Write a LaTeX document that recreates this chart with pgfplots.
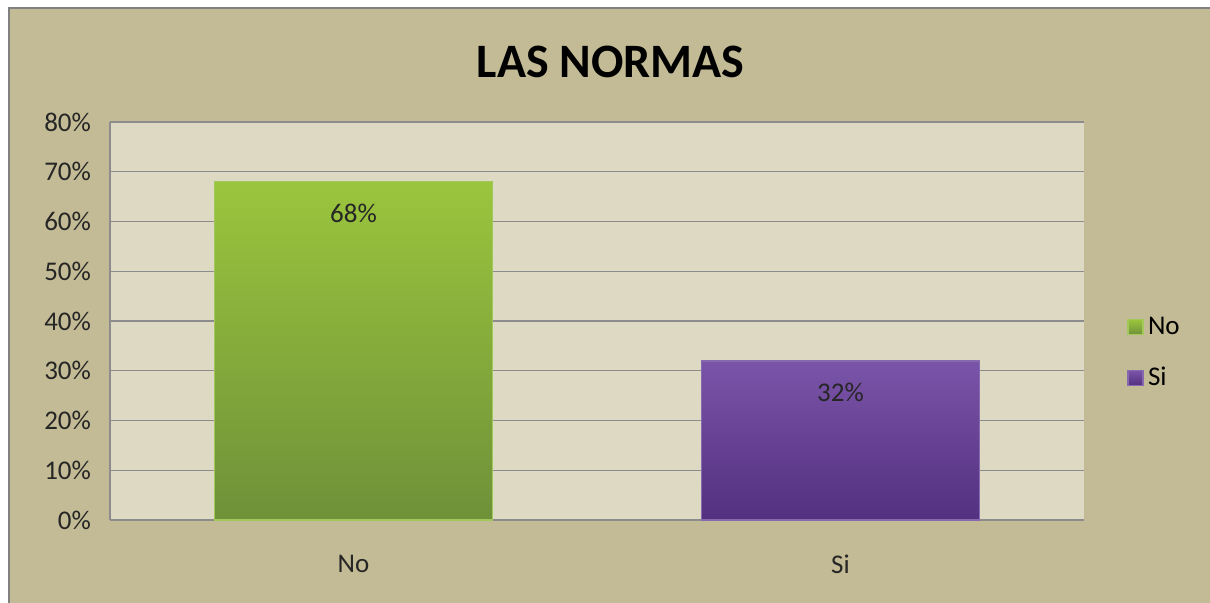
\documentclass[border=0pt]{standalone}
\usepackage{fontspec}
\setmainfont{Carlito}
\usepackage{pgfplots}
\pgfplotsset{compat=1.18}
\usetikzlibrary{backgrounds}

\definecolor{chartbg}{RGB}{195,187,149}
\definecolor{plotbg}{RGB}{221,217,195}
\definecolor{gridgray}{RGB}{140,140,140}
\definecolor{greentop}{RGB}{155,197,61}
\definecolor{greenbot}{RGB}{110,145,57}
\definecolor{greenedge}{RGB}{160,200,90}
\definecolor{purptop}{RGB}{122,84,168}
\definecolor{purpbot}{RGB}{84,48,128}
\definecolor{purpedge}{RGB}{135,105,175}

\begin{document}
\begin{tikzpicture}
\begin{axis}[
  name=ax,
  scale only axis, width=487pt, height=199pt,
  ymin=0, ymax=80, ytick={0,10,...,80},
  xmin=-0.5, xmax=1.5, xtick={0,1}, xticklabels={No,Si},
  yticklabel={\pgfmathprintnumber{\tick}\%},
  /pgf/number format/assume math mode=true,
  tick label style={font=\fontsize{13.5}{15}\selectfont, black!85},
  yticklabel style={xshift=-6pt},
  xticklabel style={yshift=-14pt},
  major tick length=0pt,
  axis lines*=left, axis line style={-, gridgray, line width=0.8pt},
  ymajorgrids, grid style={gridgray, line width=0.7pt},
  axis background/.style={fill=plotbg},
  bar width=0.571, clip=false,
  title={LAS NORMAS},
  title style={at={(axis description cs:0.514,1.121)}, anchor=center,
    font=\fontsize{24}{28}\bfseries\selectfont},
  legend style={at={(axis description cs:1,0.42)}, anchor=west, xshift=21.5pt,
    draw=none, fill=none, font=\fontsize{13.5}{15}\selectfont,
    row sep=11pt, inner sep=0pt},
  legend cell align=left,
  legend image code/.code={\draw[#1] (0pt,-3.75pt) rectangle (7.5pt,3.75pt);},
  nodes near coords={\pgfmathprintnumber{\pgfplotspointmeta}\%},
  point meta=y,
  every node near coord/.append style={anchor=center, yshift=-16pt,
    font=\fontsize{13.5}{15}\selectfont, black!85},
]
\addplot[ybar, bar shift=0pt, draw=greenedge, line width=0.8pt,
  top color=greentop, bottom color=greenbot] coordinates {(0,68)};
\addplot[ybar, bar shift=0pt, draw=purpedge, line width=0.8pt,
  top color=purptop, bottom color=purpbot] coordinates {(1,32)};
\legend{No,Si}
\end{axis}
\begin{scope}[on background layer, shift={(ax.south west)}]
  \fill[white] (-55pt,-41.5pt) rectangle (550pt,260pt);
  \fill[gray] (-51pt,-41.5pt) rectangle (550pt,256.5pt);
  \fill[chartbg] (-50pt,-41.5pt) rectangle (550pt,255.5pt);
\end{scope}
\pgfresetboundingbox
\path[shift={(ax.south west)}] (-55pt,-41.5pt) rectangle (550pt,260pt);
\end{tikzpicture}
\end{document}
